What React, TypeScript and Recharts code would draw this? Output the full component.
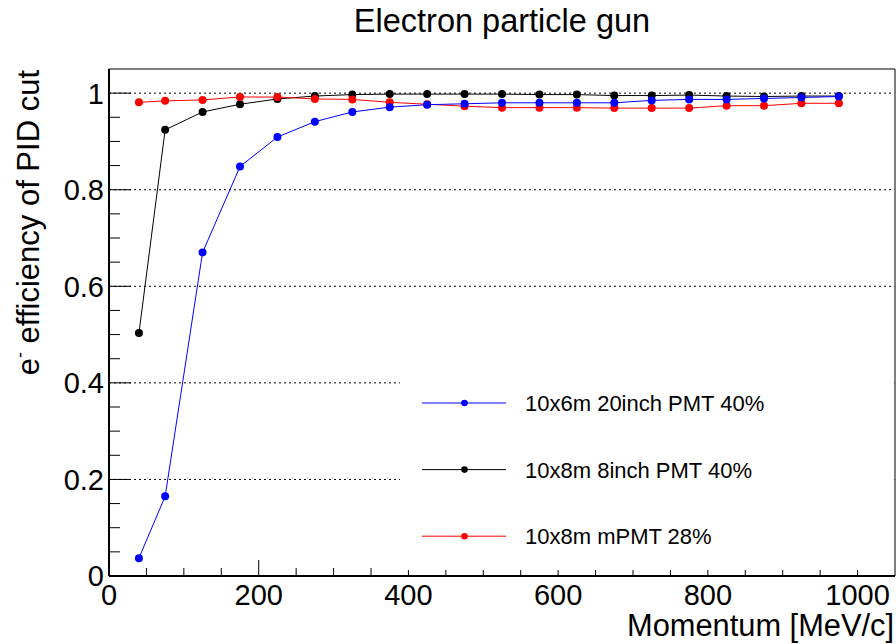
import React from 'react';
import { LineChart, Line, XAxis, YAxis, ReferenceLine, Legend } from 'recharts';

const FONT = '"Liberation Sans", Arial, Helvetica, sans-serif';

const momentum = [40, 75, 125, 175, 225, 275, 325, 375, 425, 475, 525, 575, 625, 675, 725, 775, 825, 875, 925, 975];
const eff20inch = [0.037, 0.165, 0.67, 0.848, 0.909, 0.941, 0.961, 0.971, 0.976, 0.978, 0.98, 0.98, 0.98, 0.98, 0.985, 0.987, 0.987, 0.989, 0.991, 0.993];
const eff8inch = [0.503, 0.924, 0.961, 0.977, 0.988, 0.994, 0.997, 0.998, 0.998, 0.998, 0.998, 0.997, 0.997, 0.995, 0.995, 0.996, 0.994, 0.993, 0.994, 0.994];
const effMPMT = [0.981, 0.984, 0.986, 0.992, 0.992, 0.988, 0.987, 0.981, 0.977, 0.973, 0.97, 0.97, 0.97, 0.969, 0.969, 0.969, 0.974, 0.974, 0.979, 0.979];

const seriesNames = ['10x6m 20inch PMT 40%', '10x8m 8inch PMT 40%', '10x8m mPMT 28%'];
const seriesColors = ['#0000ff', '#000000', '#ff0000'];

const xTicks = [0, 50, 100, 150, 200, 250, 300, 350, 400, 450, 500, 550, 600, 650, 700, 750, 800, 850, 900, 950, 1000];
const xMajor = [0, 200, 400, 600, 800, 1000];
const yTicks = [0, 0.05, 0.1, 0.15, 0.2, 0.25, 0.3, 0.35, 0.4, 0.45, 0.5, 0.55, 0.6, 0.65, 0.7, 0.75, 0.8, 0.85, 0.9, 0.95, 1];
const yMajor = [0, 0.2, 0.4, 0.6, 0.8, 1];
const yGrid = [0.2, 0.4, 0.6, 0.8, 1];

const data = momentum.map((p, i) => ({ p, a: eff20inch[i], b: eff8inch[i], c: effMPMT[i] }));

const isIn = (arr: number[], v: number) => arr.some((m) => Math.abs(m - v) < 1e-6);

const XTick = (props: any) => {
  const { x, y, payload } = props;
  const v = payload.value;
  const major = isIn(xMajor, v);
  return (
    <g>
      <line x1={x} x2={x} y1={y} y2={y - (major ? 16 : 8)} stroke="#000" strokeWidth={1} />
      {major && (
        <text x={x} y={y + 29} textAnchor="middle" fontSize={29} fill="#000" fontFamily={FONT}>
          {v}
        </text>
      )}
    </g>
  );
};

const YTick = (props: any) => {
  const { x, y, payload } = props;
  const v = payload.value;
  const major = isIn(yMajor, v);
  return (
    <g>
      <line x1={x} x2={x + (major ? 22 : 11)} y1={y} y2={y} stroke="#000" strokeWidth={1} />
      {major && (
        <text x={x - 5} y={y} dy="0.36em" textAnchor="end" fontSize={29} fill="#000" fontFamily={FONT}>
          {String(Number(v.toFixed(2)))}
        </text>
      )}
    </g>
  );
};

const legendOrder = [0, 1, 2];

const LegendBox = () => (
  <svg width={491} height={205} style={{ display: 'block' }}>
    {legendOrder.map((k, i) => {
      const cy = 38 + i * 66.6;
      return (
        <g key={k}>
          <line x1={22} x2={106} y1={cy} y2={cy} stroke={seriesColors[k]} strokeWidth={1} />
          <circle cx={64.5} cy={cy} r={3.3} fill={seriesColors[k]} />
          <text x={125} y={cy} dy="0.36em" fontSize={22} fill="#000" fontFamily={FONT}>
            {seriesNames[k]}
          </text>
        </g>
      );
    })}
  </svg>
);

const drawOrder = [
  { key: 'b', idx: 1 },
  { key: 'c', idx: 2 },
  { key: 'a', idx: 0 },
];

export default function App() {
  return (
    <div style={{ position: 'absolute', left: 0, top: 0, width: 896, height: 644, background: '#fff' }}>
      <svg width={896} height={60} style={{ position: 'absolute', left: 0, top: 0 }}>
        <text x={502} y={32} textAnchor="middle" fontSize={32.5} fill="#000" fontFamily={FONT}>
          Electron particle gun
        </text>
      </svg>
      <LineChart
        width={896}
        height={644}
        data={data}
        margin={{ top: 69, right: 1, bottom: 0, left: 0 }}
        style={{ fontFamily: FONT }}
      >
        <XAxis
          type="number"
          dataKey="p"
          domain={[0, 1050]}
          ticks={xTicks}
          interval={0}
          height={68}
          tickSize={0}
          tickMargin={0}
          tickLine={false}
          axisLine={{ stroke: '#000', strokeWidth: 2 }}
          tick={<XTick />}
          label={{
            content: (p: any) => (
              <text x={894} y={636} textAnchor="end" fontSize={30.8} fill="#000" fontFamily={FONT}>
                Momentum [MeV/c]
              </text>
            ),
          }}
        />
        <YAxis
          type="number"
          domain={[0, 1.05]}
          ticks={yTicks}
          interval={0}
          width={109}
          tickSize={0}
          tickMargin={0}
          tickLine={false}
          axisLine={{ stroke: '#000', strokeWidth: 2 }}
          tick={<YTick />}
          label={{
            content: (p: any) => (
              <text
                x={39}
                y={70}
                transform="rotate(-90, 39, 70)"
                textAnchor="end"
                fontSize={31}
                fill="#000"
                fontFamily={FONT}
              >
                e<tspan fontSize={18} dy={-13}>-</tspan>
                <tspan dy={13}> efficiency of PID cut</tspan>
              </text>
            ),
          }}
        />
        {yGrid.map((g) => (
          <ReferenceLine key={g} y={g} stroke="#000" strokeWidth={1} strokeDasharray="2 3" />
        ))}
        <ReferenceLine y={1.05} stroke="#555" strokeWidth={1.5} />
        <ReferenceLine x={1050} stroke="#555" strokeWidth={1.5} />
        {drawOrder.map((s) => (
          <Line
            key={s.key}
            type="linear"
            dataKey={s.key}
            name={seriesNames[s.idx]}
            stroke={seriesColors[s.idx]}
            strokeWidth={1}
            dot={{ r: 4, fill: seriesColors[s.idx], stroke: 'none', strokeWidth: 0 }}
            activeDot={false}
            isAnimationActive={false}
          />
        ))}
        <Legend
          layout="vertical"
          align="center"
          verticalAlign="middle"
          content={() => <LegendBox />}
          wrapperStyle={{ position: 'absolute', left: 400, top: 365, width: 491, height: 205, background: '#fff' }}
        />
      </LineChart>
    </div>
  );
}
